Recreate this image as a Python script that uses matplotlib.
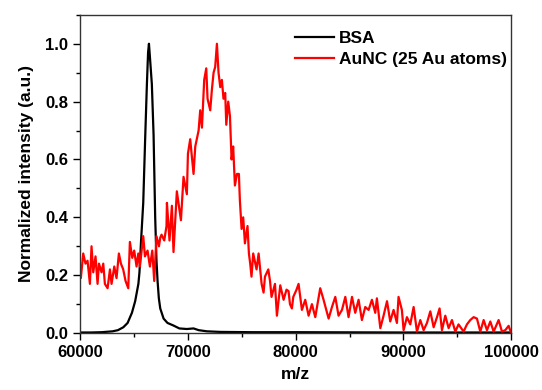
import numpy as np
import matplotlib
matplotlib.use('Agg')
import matplotlib.pyplot as plt
from matplotlib.ticker import MultipleLocator, FormatStrFormatter

plt.rcParams['font.family'] = ['Liberation Sans', 'DejaVu Sans']
plt.rcParams['font.weight'] = 'bold'

# BSA spectrum (black)
bsa_mz = [60000, 61000, 62000, 63000, 63500, 64000, 64400, 64800, 65100, 65400,
          65500, 65650, 65850, 66040, 66190, 66300, 66380, 66460, 66650, 66810,
          66960, 67080, 67180, 67300, 67430, 67740, 68100, 68660, 69200, 69900,
          70520, 71000, 71760, 73000, 76000, 80000, 90000, 100000]
bsa_int = [0.002, 0.002, 0.003, 0.006, 0.01, 0.02, 0.035, 0.07, 0.11, 0.17,
           0.21, 0.32, 0.45, 0.685, 0.86, 0.97, 1.0, 0.96, 0.86, 0.685,
           0.40, 0.25, 0.18, 0.12, 0.085, 0.05, 0.035, 0.026, 0.016, 0.014,
           0.016, 0.01, 0.006, 0.004, 0.003, 0.003, 0.002, 0.002]

# AuNC spectrum (red)
aunc_mz = [60000, 60060, 60280, 60490, 60680, 60900, 61050, 61210, 61420, 61610,
           61740, 61980, 62140, 62290, 62540, 62760, 62910, 63160, 63370, 63590,
           63780, 63990, 64210, 64460, 64610, 64830, 65010, 65230, 65390, 65540,
           65850, 66010, 66250, 66470, 66690, 66870, 67080, 67310, 67430, 67550,
           67800, 68010, 68050, 68290, 68510, 68660, 68970, 69350, 69590, 69900,
           70000, 70210, 70520, 70680, 70990, 71140, 71300, 71510, 71700, 71820,
           72070, 72220, 72380, 72530, 72690, 72840, 73000, 73150, 73300, 73460,
           73560, 73740, 73900, 74050, 74200, 74360, 74550, 74730, 74820, 74980,
           75130, 75290, 75530, 75660, 75780, 75900, 76060, 76370, 76560, 76840,
           77020, 77150, 77460, 77620, 77760, 78080, 78260, 78380, 78570, 78880,
           79150, 79340, 79470, 79650, 79780, 80080, 80270, 80580, 80890, 81200,
           81510, 81820, 82280, 82590, 83060, 83370, 83680, 83980, 84300, 84610,
           84910, 85230, 85530, 85840, 86150, 86460, 86770, 87080, 87390, 87540,
           87860, 88160, 88480, 88780, 89090, 89400, 89550, 89860, 90020, 90330,
           90640, 90950, 91260, 91570, 91880, 92190, 92500, 92810, 93120, 93360,
           93580, 93890, 94200, 94510, 94820, 95120, 95590, 95900, 96210, 96520,
           96830, 97140, 97450, 97760, 98070, 98380, 98840, 99150, 99460, 99770,
           100000]
aunc_int = [0.21, 0.19, 0.275, 0.24, 0.25, 0.17, 0.30, 0.21, 0.265, 0.17,
            0.24, 0.21, 0.24, 0.17, 0.155, 0.22, 0.17, 0.23, 0.19, 0.275,
            0.24, 0.22, 0.18, 0.155, 0.315, 0.26, 0.285, 0.23, 0.275, 0.23,
            0.335, 0.265, 0.285, 0.23, 0.285, 0.18, 0.335, 0.30, 0.33, 0.34,
            0.32, 0.37, 0.45, 0.32, 0.44, 0.28, 0.49, 0.39, 0.54, 0.48,
            0.62, 0.67, 0.55, 0.645, 0.70, 0.77, 0.71, 0.875, 0.915, 0.81,
            0.77, 0.84, 0.90, 0.92, 1.00, 0.90, 0.85, 0.875, 0.81, 0.83,
            0.72, 0.80, 0.75, 0.60, 0.645, 0.51, 0.55, 0.55, 0.46, 0.36,
            0.40, 0.31, 0.37, 0.275, 0.24, 0.195, 0.275, 0.22, 0.275, 0.17,
            0.14, 0.195, 0.22, 0.18, 0.125, 0.17, 0.06, 0.10, 0.165, 0.115,
            0.15, 0.145, 0.10, 0.085, 0.125, 0.15, 0.17, 0.08, 0.115, 0.06,
            0.10, 0.055, 0.155, 0.115, 0.05, 0.09, 0.125, 0.06, 0.08, 0.125,
            0.055, 0.125, 0.07, 0.115, 0.045, 0.09, 0.08, 0.115, 0.07, 0.12,
            0.017, 0.06, 0.11, 0.04, 0.08, 0.035, 0.125, 0.08, 0.01, 0.055,
            0.03, 0.09, 0.005, 0.045, 0.01, 0.035, 0.075, 0.02, 0.055, 0.085,
            0.01, 0.06, 0.017, 0.045, 0.005, 0.03, 0.005, 0.03, 0.045, 0.055,
            0.05, 0.005, 0.045, 0.01, 0.04, 0.005, 0.045, 0.005, 0.01, 0.025,
            0.0]

fig = plt.figure(figsize=(5.42, 3.9), dpi=100)
ax = fig.add_axes([0.148, 0.146, 0.795, 0.816])

ax.plot(bsa_mz, bsa_int, color='black', lw=1.6, label='BSA')
ax.plot(aunc_mz, aunc_int, color='red', lw=1.6, label='AuNC (25 Au atoms)')

ax.set_xlim(60000, 100000)
ax.set_ylim(0, 1.1)
ax.xaxis.set_major_locator(MultipleLocator(10000))
ax.xaxis.set_minor_locator(MultipleLocator(5000))
ax.yaxis.set_major_locator(MultipleLocator(0.2))
ax.yaxis.set_minor_locator(MultipleLocator(0.1))
ax.yaxis.set_major_formatter(FormatStrFormatter('%.1f'))
ax.tick_params(which='major', direction='out', length=5, width=1, labelsize=12, top=False, right=False)
ax.tick_params(which='minor', direction='out', length=3, width=1, top=False, right=False)
for s in ax.spines.values():
    s.set_linewidth(1.0)
    s.set_color('#333333')

ax.set_xlabel('m/z', fontsize=12.5, fontweight='bold', labelpad=5)
ax.set_ylabel('Normalized intensity (a.u.)', fontsize=12.5, fontweight='bold', labelpad=8)

leg = ax.legend(loc='upper right', bbox_to_anchor=(0.99, 0.95), frameon=False,
                fontsize=12.5, handlelength=2.2, handletextpad=0.3,
                labelspacing=0.35, borderaxespad=0, borderpad=0)

fig.savefig('out.png', dpi=100)
